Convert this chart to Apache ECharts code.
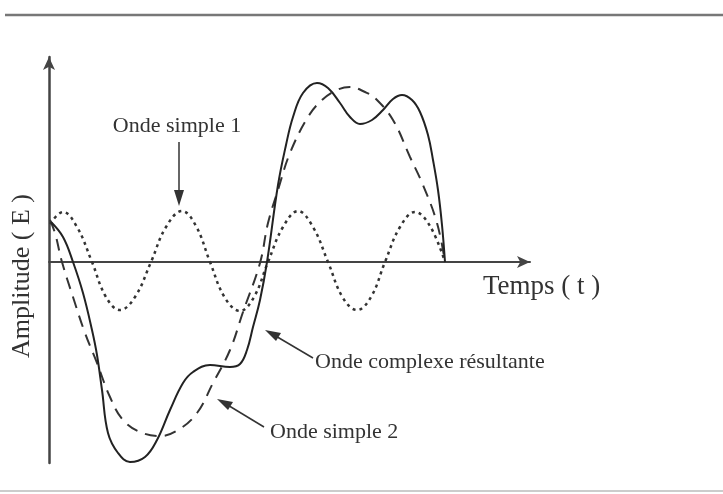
<!DOCTYPE html>
<html>
<head>
<meta charset="utf-8">
<script src="https://cdn.jsdelivr.net/npm/echarts@6/dist/echarts.min.js"></script>
<style>
  html, body { margin: 0; padding: 0; background: #fff; }
  #chart { width: 723px; height: 494px; }
</style>
</head>
<body>
<div id="chart"></div>
<script>
// temps (t) et amplitude (E)
const simple1T = [1, 14, 28, 43, 57, 71, 86, 102, 117, 133, 147, 161, 176, 191, 205, 219, 234, 249, 264, 279, 294, 308, 322, 336, 351, 366, 381, 396];
const simple1E = [38, 50, 35, 0, -35, -48, -35, 0, 35, 51, 36, 0, -36, -49, -35, 0, 35, 51, 35, 0, -36, -48, -35, 0, 35, 50, 36, 0];

const simple2T = [1, 6, 13, 24, 36, 48, 61, 74, 91, 111, 129, 148, 164, 181, 194, 211, 219, 229, 241, 259, 273, 288, 301, 316, 326, 344, 361, 374, 388, 396];
const simple2E = [42, 29, 0, -35, -71, -101, -135, -158, -170, -174, -168, -151, -121, -88, -50, -1, 39, 72, 109, 145, 162, 172, 175, 170, 164, 142, 105, 77, 39, 0];

const complexeT = [2, 14, 24, 34, 43, 48, 53, 59, 69, 81, 96, 108, 121, 134, 144, 161, 181, 191, 198, 204, 211, 218, 229, 237, 244, 254, 268, 279, 291, 301, 311, 323, 334, 344, 353, 363, 371, 379, 384, 389, 393, 396];
const complexeE = [40, 25, 0, -31, -68, -93, -128, -171, -191, -200, -195, -178, -148, -121, -110, -103, -105, -102, -88, -65, -38, 0, 77, 117, 145, 169, 179, 174, 159, 145, 138, 142, 152, 163, 167, 162, 150, 127, 102, 72, 37, 0];

function pairs(t, e) {
  return t.map(function (v, i) { return [v, e[i]]; });
}

const chart = echarts.init(document.getElementById('chart'));
const serif = 'Liberation Serif';

const option = {
  backgroundColor: '#fff',
  animation: false,
  grid: { left: 49, right: 193, top: 57, bottom: 31 },
  xAxis: {
    type: 'value',
    min: 0,
    max: 481,
    axisLine: {
      onZero: true,
      symbol: ['none', 'arrow'],
      symbolSize: [9, 13],
      lineStyle: { color: '#444', width: 2 }
    },
    axisTick: { show: false },
    axisLabel: { show: false },
    splitLine: { show: false }
  },
  yAxis: {
    type: 'value',
    min: -201,
    max: 205,
    axisLine: {
      show: true,
      symbol: ['none', 'arrow'],
      symbolSize: [9, 13],
      lineStyle: { color: '#444', width: 2.5 }
    },
    axisTick: { show: false },
    axisLabel: { show: false },
    splitLine: { show: false }
  },
  series: [
    {
      name: 'Onde simple 1',
      type: 'line',
      data: pairs(simple1T, simple1E),
      smooth: 0.4,
      showSymbol: false,
      clip: false,
      lineStyle: { color: '#333', width: 2.5, type: [3, 4] }
    },
    {
      name: 'Onde simple 2',
      type: 'line',
      data: pairs(simple2T, simple2E),
      smooth: 0.4,
      showSymbol: false,
      clip: false,
      lineStyle: { color: '#333', width: 2, type: [12, 8] }
    },
    {
      name: 'Onde complexe résultante',
      type: 'line',
      data: pairs(complexeT, complexeE),
      smooth: 0.4,
      showSymbol: false,
      clip: false,
      lineStyle: { color: '#222', width: 2 }
    }
  ],
  graphic: [
    // filets haut et bas de la page
    { type: 'line', shape: { x1: 5, y1: 15, x2: 723, y2: 15 }, style: { stroke: '#777', lineWidth: 2.5 } },
    { type: 'line', shape: { x1: 0, y1: 491, x2: 723, y2: 491 }, style: { stroke: '#ccc', lineWidth: 2 } },
    // textes
    { type: 'text', x: 22, y: 276, rotation: Math.PI / 2,
      style: { text: 'Amplitude ( E )', font: '26px "' + serif + '"', fill: '#333', align: 'center', verticalAlign: 'middle' } },
    { type: 'text', x: 177, y: 126,
      style: { text: 'Onde simple 1', font: '22px "' + serif + '"', fill: '#333', align: 'center', verticalAlign: 'middle' } },
    { type: 'text', x: 483, y: 287,
      style: { text: 'Temps ( t )', font: '27px "' + serif + '"', fill: '#333', align: 'left', verticalAlign: 'middle' } },
    { type: 'text', x: 315, y: 362,
      style: { text: 'Onde complexe résultante', font: '22px "' + serif + '"', fill: '#333', align: 'left', verticalAlign: 'middle' } },
    { type: 'text', x: 270, y: 432,
      style: { text: 'Onde simple 2', font: '22px "' + serif + '"', fill: '#333', align: 'left', verticalAlign: 'middle' } },
    // flèches
    { type: 'line', shape: { x1: 179, y1: 142, x2: 179, y2: 195 }, style: { stroke: '#333', lineWidth: 1.5 } },
    { type: 'polygon', shape: { points: [[179, 206], [174, 190], [184, 190]] }, style: { fill: '#333' } },
    { type: 'line', shape: { x1: 313, y1: 358, x2: 274, y2: 335 }, style: { stroke: '#333', lineWidth: 1.5 } },
    { type: 'polygon', shape: { points: [[265, 330], [281, 333], [276, 341]] }, style: { fill: '#333' } },
    { type: 'line', shape: { x1: 264, y1: 427, x2: 226, y2: 404 }, style: { stroke: '#333', lineWidth: 1.5 } },
    { type: 'polygon', shape: { points: [[217, 399], [233, 402], [228, 410]] }, style: { fill: '#333' } }
  ]
};

chart.setOption(option);
</script>
</body>
</html>
